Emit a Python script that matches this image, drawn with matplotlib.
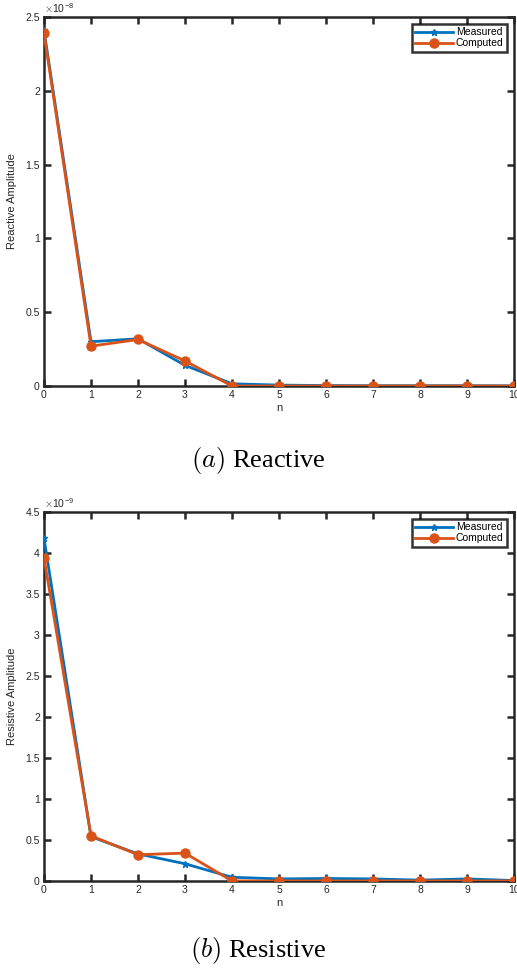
import numpy as np
import matplotlib
matplotlib.use('Agg')
import matplotlib.pyplot as plt
from matplotlib.ticker import FuncFormatter

plt.rcParams['font.family'] = ['Liberation Sans', 'DejaVu Sans']
plt.rcParams['mathtext.fontset'] = 'cm'

n = np.arange(11)
# reactive amplitude, units of 1e-8
reactive_measured = [2.41, 0.30, 0.32, 0.14, 0.015, 0.006, 0.003, 0.002, 0.002, 0.002, 0.001]
reactive_computed = [2.39, 0.27, 0.315, 0.17, 0.0, 0.0, 0.0, 0.0, 0.0, 0.0, 0.0]
# resistive amplitude, units of 1e-9
resistive_measured = [4.18, 0.54, 0.33, 0.21, 0.045, 0.025, 0.03, 0.025, 0.01, 0.025, 0.005]
resistive_computed = [3.94, 0.55, 0.32, 0.34, 0.0, 0.0, 0.0, 0.0, 0.0, 0.0, 0.0]

blue = '#0072BD'
orange = '#D95319'
axcol = '#262626'

fig = plt.figure(figsize=(5.17, 9.73), dpi=100)

def panel(rect, meas, comp, ymax, yticks, exp, ylabel, caption, cap_y):
    ax = fig.add_axes(rect)
    ax.plot(n, meas, color=blue, lw=2.0, marker='*', ms=5, label='Measured', zorder=3)
    ax.plot(n, comp, color=orange, lw=2.0, marker='o', ms=6.5, label='Computed', zorder=4)
    ax.set_xlim(0, 10)
    ax.set_ylim(0, ymax)
    ax.set_xticks(n)
    ax.set_yticks(yticks)
    ax.yaxis.set_major_formatter(FuncFormatter(lambda v, p: '{:g}'.format(v)))
    ax.tick_params(direction='in', length=5, width=1.8, color=axcol, labelsize=7.5,
                   top=True, right=True, labelcolor=axcol, pad=3)
    for s in ax.spines.values():
        s.set_linewidth(1.8)
        s.set_color(axcol)
    ax.set_xlabel('n', fontsize=8, color=axcol, labelpad=2)
    ax.set_ylabel(ylabel, fontsize=8, color=axcol, labelpad=6)
    ax.text(0.0, 1.005, r'$\times\mathdefault{10}^{\mathdefault{' + exp + '}}$',
            transform=ax.transAxes, fontsize=7.5, color=axcol, ha='left', va='bottom')
    leg = ax.legend(loc='upper right', fontsize=7.5, frameon=True, fancybox=False,
                    borderpad=0.3, labelspacing=0.1, handlelength=3.6, handletextpad=0.3,
                    borderaxespad=0.7)
    leg.get_frame().set_edgecolor('black')
    leg.get_frame().set_linewidth(1.8)
    fig.text(0.5, cap_y, caption, fontsize=19, ha='center', va='center',
             family='Liberation Serif')
    return ax

panel([0.0851, 0.6033, 0.9090, 0.3792], reactive_measured, reactive_computed,
      2.5, [0, 0.5, 1, 1.5, 2, 2.5], '-8', 'Reactive Amplitude',
      r'$(a)$ Reactive', 1 - 461 / 973)
panel([0.0851, 0.0946, 0.9090, 0.3792], resistive_measured, resistive_computed,
      4.5, [0, 0.5, 1, 1.5, 2, 2.5, 3, 3.5, 4, 4.5], '-9', 'Resistive Amplitude',
      r'$(b)$ Resistive', 1 - 950 / 973)

fig.savefig('out.png', dpi=100)
